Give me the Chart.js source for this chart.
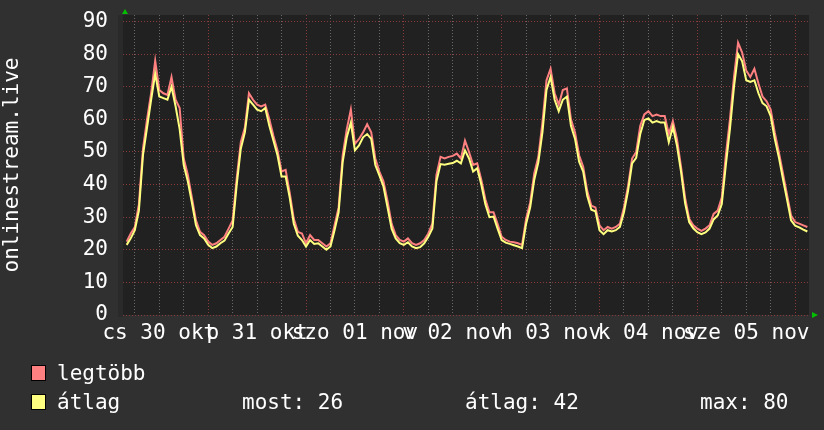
<!DOCTYPE html>
<html>
<head>
<meta charset="utf-8">
<script src="https://cdn.jsdelivr.net/npm/chart.js@4/dist/chart.umd.min.js"></script>
<style>
  html, body { margin: 0; padding: 0; background: #303030; }
  #wrap { width: 824px; height: 430px; }
</style>
</head>
<body>
<div id="wrap"><canvas id="graph"></canvas></div>
<script>
"use strict";

// data, one sample per hour, first sample at hour 4 of cs 30 okt
const firstHour = 4;

const atlag = [
  21.5, 23.5, 26, 32, 49, 57.5, 66, 74, 67, 66.5,
  66, 70, 64, 57, 46, 41, 34.5, 27.5, 24.5, 23.5,
  21.5, 20.5, 21, 22, 22.8, 25, 27, 40, 51, 56,
  66, 64.5, 63, 62.5, 63.5, 58, 53.5, 49, 42.5, 42.5,
  36, 28, 24.3, 23, 21, 23, 21.8, 22, 21, 20,
  21, 26, 31.5, 47, 54.5, 59, 50.5, 52, 54.5, 55.5,
  54, 46, 42.8, 39.4, 33, 26.5, 23.5, 22, 21.5, 22.3,
  21, 20.5, 20.8, 22, 24, 26.5, 41, 46.3, 46.1, 46.4,
  46.6,
  47.3, 46.5, 50.5, 48, 44, 45, 40, 34, 30, 30.2,
  26.5, 23, 22.2, 21.8, 21.4, 21, 20.5, 28, 33, 41.5,
  46.8, 56, 69, 73, 66, 62.5, 66, 67, 58, 54,
  47, 44, 36.5, 32.3, 31.8, 26, 24.8, 26, 25.6, 26,
  27, 31.5, 38, 46.5, 48.2, 55.5, 59.8, 60.3, 59, 59.5,
  59, 59, 53, 57.7, 52, 44, 34.3, 28.5, 26.6, 25.4,
  24.8, 25.3, 26.5, 29.3, 30.5, 34, 46, 57, 70, 80,
  77.8, 72, 71.5, 72, 68, 65, 64, 61, 54, 48.4,
  41.8, 35.5, 29, 27.4, 26.9, 26.2, 25.6
];

const legtobb = [
  22.5, 25, 27, 34, 51, 60, 68, 78, 69, 68,
  67.5, 73, 66, 63.5, 48, 43, 36, 29, 25.5, 24.5,
  22.5, 21.5, 22, 23, 24, 26.5, 29, 42, 53, 57.5,
  68, 66, 64.5, 64, 64.5, 60, 55, 50.5, 44, 44.5,
  37.5, 29.5, 25.5, 25, 22, 24.5, 23, 23, 22, 21,
  22, 27.5, 33, 49, 57, 63, 52.5, 54, 56, 58.5,
  56, 48, 44, 41, 35, 28, 24.5, 23, 22.5, 23.5,
  22, 21.5, 22, 23, 25, 28, 43, 48.5, 48, 48.5,
  48.8,
  49.5, 48, 53.5, 50, 46, 46.5, 41.5, 35.5, 31.5, 31.5,
  28, 24, 23, 22.5, 22.3, 22, 21.5, 29.5, 34.5, 43.5,
  48.5, 59, 72, 75.5, 68, 64.5, 69, 69.5, 60, 56,
  49, 45.5, 38, 33.5, 33, 27.5, 26, 27, 26.5, 27,
  28, 33, 39.5, 48, 50, 58, 61.5, 62.5, 61, 61.5,
  61, 61, 55.5, 59.5, 54, 45.5, 36, 29.5, 27.5, 26.5,
  25.8, 26.5, 27.5, 31, 32, 36, 49, 60, 73, 83.5,
  80.5, 75, 73, 75.5, 71, 67, 65.5, 63, 56, 50,
  43.5, 37, 30.5, 28.5, 28, 27.5, 27
];

const dayLabels = ['cs 30 okt', 'p 31 okt', 'szo 01 nov', 'v 02 nov', 'h 03 nov', 'k 04 nov', 'sze 05 nov'];
const yTicks = [0, 10, 20, 30, 40, 50, 60, 70, 80, 90];

const FONT = "'DejaVu Sans Mono', monospace";
const minorGrid = '#686868';
const majorGrid = '#8c3b3b';

const toPoints = arr => arr.map((v, i) => ({ x: firstHour + i, y: v }));

// stats for the legend line
const most = atlag[atlag.length - 1];
const mean = atlag.reduce((a, b) => a + b, 0) / atlag.length;
const maxv = Math.max(...atlag);

const noPad = scale => {
  scale.paddingTop = 0;
  scale.paddingBottom = 0;
  scale.paddingLeft = 0;
  scale.paddingRight = 0;
};

const rrdLook = {
  id: 'rrdLook',
  beforeDraw(chart) {
    const { ctx, chartArea: a } = chart;
    ctx.save();
    ctx.fillStyle = '#303030';
    ctx.fillRect(0, 0, chart.width, chart.height);
    ctx.fillStyle = '#2a2a2a';
    ctx.fillRect(a.left - 5, a.top, 5, a.bottom - a.top + 2);
    ctx.fillStyle = '#212121';
    ctx.fillRect(a.left, a.top, a.right - a.left, a.bottom - a.top);
    ctx.restore();
  },
  afterDraw(chart) {
    const { ctx, chartArea: a } = chart;
    ctx.save();
    // arrows
    ctx.fillStyle = '#00c000';
    ctx.beginPath();
    ctx.moveTo(a.left - 1, a.top - 1);
    ctx.lineTo(a.left + 5, a.top - 1);
    ctx.lineTo(a.left + 2, a.top - 6);
    ctx.fill();
    ctx.beginPath();
    ctx.moveTo(a.right + 3, a.bottom - 3);
    ctx.lineTo(a.right + 3, a.bottom + 3);
    ctx.lineTo(a.right + 9, a.bottom);
    ctx.fill();

    // legend
    ctx.font = '21px ' + FONT;
    ctx.textBaseline = 'alphabetic';
    ctx.strokeStyle = '#000000';
    ctx.lineWidth = 1;
    const rows = [
      { color: '#ff8080', label: 'legtöbb', y: 365 },
      { color: '#ffff80', label: 'átlag', y: 394 }
    ];
    rows.forEach(r => {
      ctx.fillStyle = r.color;
      ctx.fillRect(31, r.y, 15, 16);
      ctx.strokeRect(31.5, r.y + 0.5, 14, 15);
      ctx.fillStyle = '#ffffff';
      ctx.fillText(r.label, 57, r.y + 15);
    });
    ctx.fillText('most: ' + Math.round(most), 242, 409);
    ctx.fillText('átlag: ' + Math.round(mean), 465, 409);
    ctx.fillText('max: ' + Math.round(maxv), 700, 409);
    ctx.restore();
  }
};

const config = {
  type: 'line',
  data: {
    datasets: [
      {
        label: 'átlag',
        data: toPoints(atlag),
        borderColor: '#ffff80',
        borderWidth: 2,
        pointRadius: 0,
        fill: false,
        order: 0
      },
      {
        label: 'legtöbb',
        data: toPoints(legtobb),
        borderColor: '#ff8080',
        borderWidth: 2,
        pointRadius: 0,
        fill: false,
        order: 1
      }
    ]
  },
  options: {
    responsive: true,
    maintainAspectRatio: false,
    animation: false,
    layout: { padding: { left: 0, top: 15, right: 15, bottom: 0 } },
    plugins: {
      legend: { display: false },
      tooltip: { enabled: false }
    },
    scales: {
      x: {
        type: 'linear',
        min: 3.1,
        max: 171.4,
        afterBuildTicks: scale => {
          const t = [];
          for (let h = 6; h <= 168; h += 6) t.push({ value: h });
          scale.ticks = t;
        },
        afterFit: scale => { scale.height = 115; noPad(scale); },
        grid: {
          drawTicks: false,
          lineWidth: 1,
          color: ctx => (ctx.tick && ctx.tick.value % 24 === 0) ? majorGrid : minorGrid
        },
        border: { display: false, dash: [1, 2] },
        ticks: {
          autoSkip: false,
          maxRotation: 0,
          padding: 6,
          color: '#ffffff',
          font: { family: FONT, size: 21 },
          callback: v => (v % 24 === 12) ? dayLabels[(v - 12) / 24] : ''
        }
      },
      y: {
        min: 0,
        max: 92,
        afterBuildTicks: scale => {
          const t = [];
          for (let v = 0; v <= 92; v += 2) t.push({ value: v });
          scale.ticks = t;
        },
        afterFit: scale => { scale.width = 123; noPad(scale); },
        grid: {
          drawTicks: false,
          lineWidth: 1,
          color: ctx => (ctx.tick && ctx.tick.value % 10 === 0) ? majorGrid : minorGrid
        },
        border: { display: false, dash: [1, 2] },
        ticks: {
          padding: 15,
          color: '#ffffff',
          font: { family: FONT, size: 21 },
          callback: v => yTicks.includes(v) ? String(v) : ''
        },
        title: {
          display: true,
          text: 'onlinestream.live',
          color: '#ffffff',
          font: { family: FONT, size: 21 },
          padding: { top: 0, bottom: 0 }
        }
      }
    }
  },
  plugins: [rrdLook]
};

const graph = new Chart(document.getElementById('graph'), config);
</script>
</body>
</html>
